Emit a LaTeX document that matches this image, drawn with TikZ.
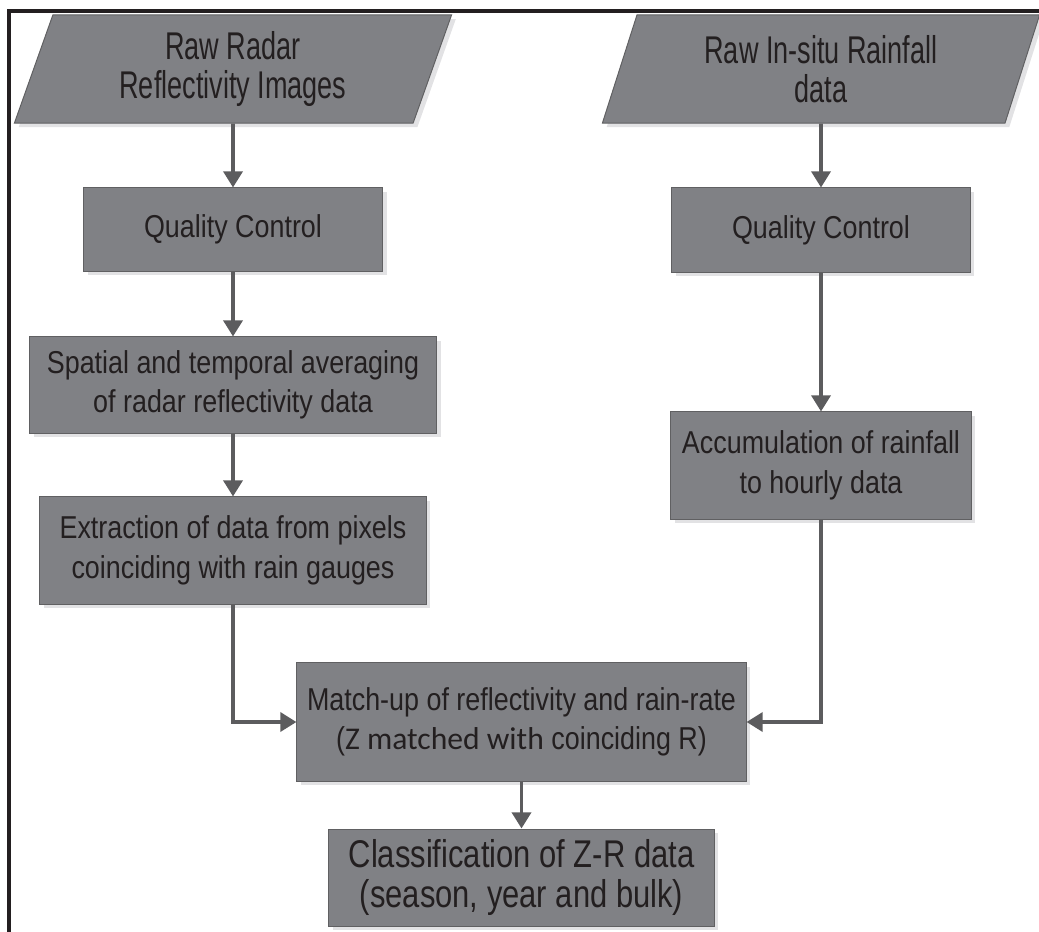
\documentclass[tikz,border=0pt]{standalone}
\usepackage{fontspec}
\setmainfont[FakeStretch=0.85]{Liberation Sans}
\newfontfamily\calfont{Carlito}
\newfontfamily\rawfont[FakeStretch=0.70]{Liberation Sans}
\newfontfamily\classfont[FakeStretch=0.80]{Liberation Sans}
\usepackage{tikz}
\usetikzlibrary{shapes.geometric, arrows.meta, shadows}
\definecolor{boxgray}{RGB}{128,129,133}
\definecolor{edgegray}{RGB}{96,96,98}
\definecolor{linegray}{RGB}{92,92,94}
\definecolor{inkblack}{RGB}{35,31,32}
\definecolor{shadowgray}{RGB}{226,226,228}
\newcommand{\boxfont}{\fontsize{22.5}{28}\selectfont}
\newcommand{\bigboxfont}{\fontsize{27.5}{28}\selectfont}

\begin{document}
\begin{tikzpicture}[x=0.025cm, y=-0.025cm,
    procnode/.style={rectangle, draw=edgegray, line width=0.7pt, fill=boxgray,
      text=inkblack, align=center, inner sep=0pt, font=\boxfont,
      general shadow={fill=shadowgray, shadow xshift=3pt, shadow yshift=-3pt}},
    datanode/.style={trapezium, trapezium left angle=63, trapezium right angle=117,
      trapezium stretches body, draw=edgegray, line width=0.7pt, fill=boxgray,
      text=inkblack, align=center, inner sep=0pt, font=\rawfont\bigboxfont,
      minimum width=10.925cm, minimum height=2.7cm,
      general shadow={fill=shadowgray, shadow xshift=3pt, shadow yshift=-3pt}},
    flowarrow/.style={draw=linegray, line width=2.6pt,
      -{Triangle[width=13.5pt,length=11.5pt]}} ]
    \useasboundingbox (0,0) rectangle (1039,932);
    \draw [line width=2.85pt, inkblack, line join=miter] (9,940) -- (9,11) -- (1045,11);
    % radar branch
    \node at (233,69) [datanode] (raw1) {Raw Radar\\Reflectivity Images};
    \node at (233,229.5) [procnode, minimum width=7.475cm, minimum height=2.075cm] (qc1) {Quality Control};
    \node at (233,385) [procnode, minimum width=10.175cm, minimum height=2.4cm] (spatial) {Spatial and temporal averaging\\of radar reflectivity data};
    \node at (233,550.5) [procnode, minimum width=9.65cm, minimum height=2.675cm] (extract) {Extraction of data from pixels\\coinciding with rain gauges};
    % gauge branch
    \node at (821,69) [datanode] (raw2) {Raw In-situ Rainfall\\data};
    \node at (821,230) [procnode, minimum width=7.45cm, minimum height=2.1cm] (qc2) {Quality Control};
    \node at (821,465.5) [procnode, minimum width=7.5cm, minimum height=2.675cm] (accum) {Accumulation of rainfall\\to hourly data};
    % merged
    \node at (521.5,722) [procnode, minimum width=11.225cm, minimum height=2.95cm] (match) {Match-up of reflectivity and rain-rate\\({\calfont Z matched with} coinciding R)};
    \node at (521.5,877.5) [procnode, font=\classfont\bigboxfont, minimum width=9.625cm, minimum height=2.425cm] (class) {Classification of Z-R data\\(season, year and bulk)};
    \draw [flowarrow] (raw1) to (qc1);
    \draw [flowarrow] (qc1) to (spatial);
    \draw [flowarrow] (spatial) to (extract);
    \draw [flowarrow] (raw2) to (qc2);
    \draw [flowarrow] (qc2) to (accum);
    \draw [flowarrow] (extract) |- (match);
    \draw [flowarrow] (accum) |- (match);
    \draw [flowarrow] (match) to (class);
\end{tikzpicture}
\end{document}
